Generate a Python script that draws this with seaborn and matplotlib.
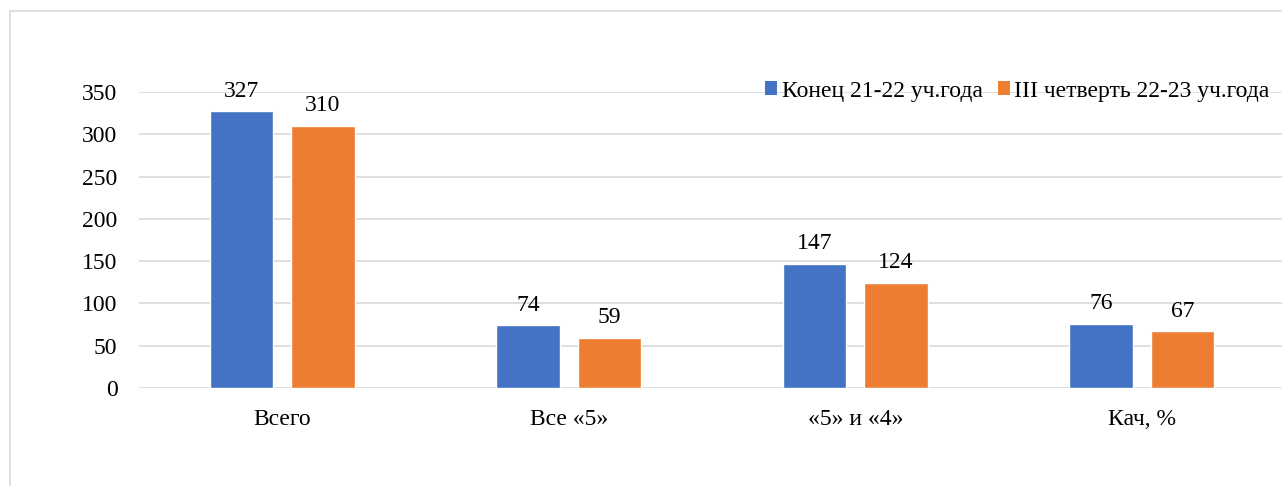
import matplotlib
matplotlib.use("Agg")
import matplotlib.pyplot as plt
import seaborn as sns
import pandas as pd
from matplotlib.patches import Rectangle, Patch

categories = ["Всего", "Все «5»", "«5» и «4»", "Кач, %"]
series_names = ["Конец 21-22 уч.года", "III четверть 22-23 уч.года"]
values_2122 = [327, 74, 147, 76]
values_2223 = [310, 59, 124, 67]
y_ticks = [0, 50, 100, 150, 200, 250, 300, 350]

colors = ["#4472C4", "#ED7D31"]

df = pd.DataFrame({
    "cat": categories * 2,
    "series": [series_names[0]] * 4 + [series_names[1]] * 4,
    "val": values_2122 + values_2223,
})

sns.set_theme(style="white")
plt.rcParams["font.family"] = ["Liberation Serif", "DejaVu Serif"]
plt.rcParams["text.color"] = "black"

W, H = 1282, 486
fig = plt.figure(figsize=(W / 100, H / 100), dpi=100)
ax = fig.add_axes([139 / W, 1 - 388 / H, 1146 / W, 296 / H])

sns.barplot(data=df, x="cat", y="val", hue="series", palette=colors,
            width=0.569, gap=0.215, saturation=1, ax=ax, legend=False)

ax.set_ylim(0, 350)
ax.set_xlim(-0.5, 3.5)
ax.set_yticks(y_ticks)
ax.set_yticklabels([str(t) for t in y_ticks])
ax.set_xlabel("")
ax.set_ylabel("")
for s in ax.spines.values():
    s.set_visible(False)
ax.yaxis.grid(True, color="#d9d9d9", linewidth=1.2)
ax.xaxis.grid(False)
ax.set_axisbelow(True)
ax.tick_params(axis="y", length=0, pad=15.5, labelsize=17, labelcolor="black")
ax.tick_params(axis="x", length=0, pad=15, labelsize=17, labelcolor="black")

for cont in ax.containers:
    ax.bar_label(cont, fmt="%d", padding=7, fontsize=17, color="black")

handles = [Patch(facecolor=c, edgecolor="none") for c in colors]
fig.legend(handles, series_names, loc="center left",
           bbox_to_anchor=(765 / W, 1 - 91 / H), bbox_transform=fig.transFigure,
           ncol=2, frameon=False, fontsize=17, borderpad=0, borderaxespad=0,
           handlelength=0.5, handleheight=0.5, handletextpad=0.2,
           columnspacing=0.65)

fig.patches.append(Rectangle((9.5 / W, -0.1), 1.2, 1.1 - 11 / H,
                             transform=fig.transFigure, fill=False,
                             edgecolor="#d9d9d9", linewidth=1.2, zorder=0))

fig.savefig("out.png", dpi=100)
